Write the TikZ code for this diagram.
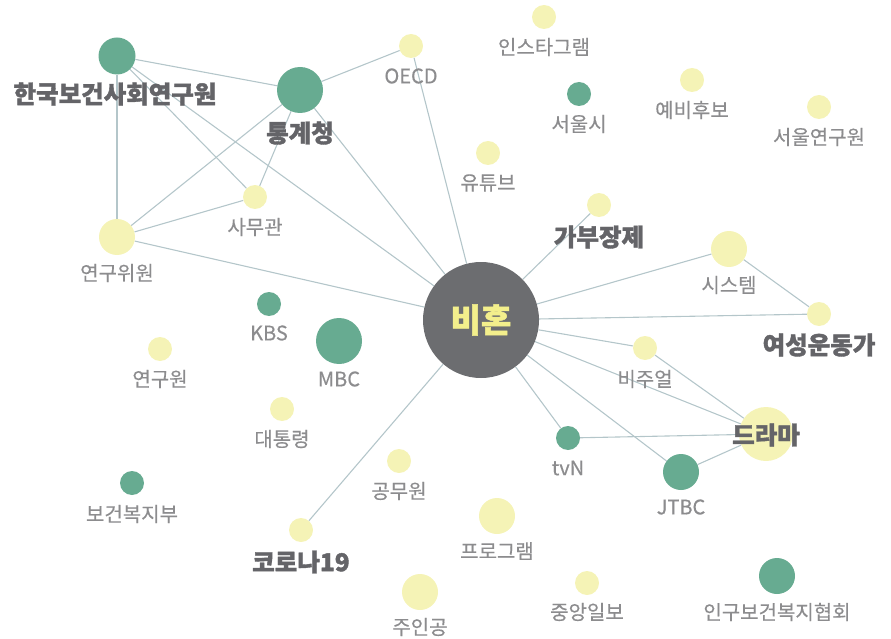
\documentclass[tikz,border=0pt]{standalone}
\usepackage{fontspec}
\setmainfont{Noto Sans CJK KR}[BoldFeatures={FakeBold=1.5}]
\newfontfamily\labfont{Noto Sans CJK KR}[FakeBold=0.4]
\usetikzlibrary{backgrounds}
\definecolor{gr}{HTML}{67AB91}
\definecolor{ye}{HTML}{F5F3B6}
\definecolor{hubc}{HTML}{6C6D70}
\definecolor{labc}{HTML}{8C8C8E}
\definecolor{boldc}{HTML}{646468}
\definecolor{edgec}{HTML}{B4C6CA}
\definecolor{hubt}{HTML}{F3EF8C}
\tikzset{
  dot/.style={circle, inner sep=0pt, draw=none},
  gdot/.style={dot, fill=gr},
  ydot/.style={dot, fill=ye},
  s/.style={minimum size=24pt},
  m/.style={minimum size=36pt},
  l/.style={minimum size=46pt},
  lab/.style={inner sep=0pt, text=labc, font=\fontsize{20}{22}\labfont},
  blab/.style={inner sep=0pt, text=boldc, font=\fontsize{24.5}{26}\selectfont\bfseries},
  edge/.style={draw=edgec, line width=1.1pt}
}
\begin{document}
\begin{tikzpicture}[x=1pt,y=-1pt]
\useasboundingbox (0,0) rectangle (891,639);
% hub
\node[dot, fill=hubc, minimum size=116pt, text=hubt, font=\fontsize{33}{35}\selectfont\bfseries] (hub) at (481,320) {비혼};
% nodes
\node[gdot, minimum size=37pt] (kihasa) at (117,56) {};
\node[gdot, l] (kostat) at (300,90) {};
\node[ydot, s] (oecd) at (411,46) {};
\node[ydot, s] (samu) at (255,197) {};
\node[ydot, m] (yw) at (117,237) {};
\node[gdot, s] (kbs) at (269,304) {};
\node[ydot, s] (insta) at (544,17) {};
\node[gdot, s] (seoul) at (579,94) {};
\node[ydot, s] (yebi) at (692,80) {};
\node[ydot, s] (seoulyw) at (819,107) {};
\node[ydot, s] (yt) at (488,153) {};
\node[ydot, s] (gabu) at (599,205) {};
\node[ydot, m] (sys) at (729,249) {};
\node[ydot, s] (yeoseong) at (819,314) {};
\node[ydot, s] (ygw) at (160,349) {};
\node[gdot, l] (mbc) at (339,341) {};
\node[ydot, s] (pres) at (282,409) {};
\node[ydot, s] (gong) at (399,461) {};
\node[gdot, s] (bok) at (132,483) {};
\node[ydot, s] (corona) at (301,530) {};
\node[ydot, m] (juin) at (420,592) {};
\node[ydot, s] (visual) at (645,348) {};
\node[ydot, minimum size=54pt] (drama) at (766,434) {};
\node[gdot, s] (tvn) at (568,438) {};
\node[gdot, m] (jtbc) at (681,472) {};
\node[ydot, m] (prog) at (497,516) {};
\node[ydot, s] (joong) at (587,583) {};
\node[gdot, m] (ingu) at (777,576) {};
% edges
\begin{scope}[on background layer]
\draw[edge] (kihasa) -- (kostat);
\draw[edge] (kihasa) -- (yw);
\draw[edge] (kihasa) -- (samu);
\draw[edge] (kihasa) -- (hub);
\draw[edge] (kostat) -- (oecd);
\draw[edge] (kostat) -- (yw);
\draw[edge] (kostat) -- (samu);
\draw[edge] (kostat) -- (hub);
\draw[edge] (oecd) -- (hub);
\draw[edge] (yw) -- (samu);
\draw[edge] (yw) -- (hub);
\draw[edge] (gabu) -- (hub);
\draw[edge] (sys) -- (hub);
\draw[edge] (sys) -- (yeoseong);
\draw[edge] (yeoseong) -- (hub);
\draw[edge] (visual) -- (hub);
\draw[edge] (visual) -- (drama);
\draw[edge] (hub) -- (drama);
\draw[edge] (tvn) -- (hub);
\draw[edge] (tvn) -- (drama);
\draw[edge] (jtbc) -- (hub);
\draw[edge] (jtbc) -- (drama);
\draw[edge] (corona) -- (hub);
\end{scope}
% labels
\node[blab] (kihasa-l) at (115,94) {한국보건사회연구원};
\node[blab] (kostat-l) at (300,133) {통계청};
\node[lab] (oecd-l) at (411,76) {OECD};
\node[lab] (samu-l) at (255,227) {사무관};
\node[lab] (yw-l) at (117,273) {연구위원};
\node[lab] (kbs-l) at (269,333) {KBS};
\node[lab] (insta-l) at (544,47) {인스타그램};
\node[lab] (seoul-l) at (579,124) {서울시};
\node[lab] (yebi-l) at (692,110) {예비후보};
\node[lab] (seoulyw-l) at (819,137) {서울연구원};
\node[lab] (yt-l) at (488,183) {유튜브};
\node[blab] (gabu-l) at (599,237) {가부장제};
\node[lab] (sys-l) at (729,285) {시스템};
\node[blab] (yeoseong-l) at (819,345) {여성운동가};
\node[lab] (ygw-l) at (160,379) {연구원};
\node[lab] (mbc-l) at (339,379) {MBC};
\node[lab] (pres-l) at (282,439) {대통령};
\node[lab] (gong-l) at (399,491) {공무원};
\node[lab] (bok-l) at (132,514) {보건복지부};
\node[blab] (corona-l) at (301,562) {코로나19};
\node[lab] (juin-l) at (420,627) {주인공};
\node[lab] (visual-l) at (645,379) {비주얼};
\node[blab] (drama-l) at (766,435) {드라마};
\node[lab] (tvn-l) at (568,468) {tvN};
\node[lab] (jtbc-l) at (681,507) {JTBC};
\node[lab] (prog-l) at (497,551) {프로그램};
\node[lab] (joong-l) at (587,612) {중앙일보};
\node[lab] (ingu-l) at (777,612) {인구보건복지협회};
\end{tikzpicture}
\end{document}
